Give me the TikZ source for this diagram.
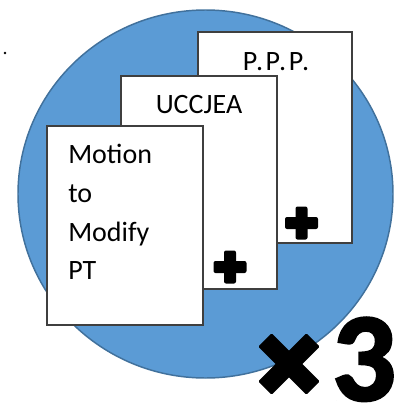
\documentclass[tikz,border=0pt]{standalone}
\usepackage{fontspec}
\setmainfont{Carlito}
\newfontfamily\threefont[BoldFeatures={FakeBold=2.5}]{Carlito}
\newfontfamily\spacedfont[LetterSpace=9]{Carlito}
\definecolor{circfill}{HTML}{5B9BD5}
\definecolor{circline}{HTML}{41719C}
\definecolor{boxline}{HTML}{3F3F3F}
\begin{document}
\begin{tikzpicture}[x=0.75pt,y=-0.75pt,
  circ/.style={fill=circfill,draw=circline,line width=1.1pt},
  doc/.style={draw=boxline,fill=white,line width=0.9pt,rectangle,inner sep=0pt},
  lbl/.style={font=\fontsize{21}{25}\selectfont,inner sep=0pt},
  mlbl/.style={font=\fontsize{21}{25}\selectfont,inner sep=0pt,anchor=base west},
  plusmark/.pic={
    \fill[black,rounded corners=1.5pt] (-16.5,-6) rectangle (16.5,6);
    \fill[black,rounded corners=1.5pt] (-6,-16.5) rectangle (6,16.5);
  }]
\useasboundingbox (0,0) rectangle (403,408);
% dot
\fill[black] (5,53) circle [radius=1.4];
% big circle
\draw[circ] (205.5,194) ellipse [x radius=187.5, y radius=184];
% documents
\node[doc,minimum width=115.5pt,minimum height=158.25pt] (ppp) at (275,137.5) {};
\node[lbl,anchor=base,font=\spacedfont\fontsize{21}{25}\selectfont] (ppptxt) at (276,70) {P.P.P.};
\pic at (301.5,223) {plusmark};
\node[doc,minimum width=117pt,minimum height=159.75pt] (ucc) at (199,182.5) {};
\node[lbl,anchor=base] (ucctxt) at (199,113) {UCCJEA};
\pic at (230,267) {plusmark};
\node[doc,minimum width=117pt,minimum height=149.25pt] (mot) at (125,225.5) {};
\node[mlbl] (m1) at (68,163) {Motion};
\node[mlbl] (m2) at (68,202) {to};
\node[mlbl] (m3) at (68,241) {Modify};
\node[mlbl] (m4) at (68,279) {PT};
% times 3
\begin{scope}[shift={(289,364)}]
  \fill[black,rounded corners=1pt,rotate=45] (-34,-9.5) rectangle (34,9.5);
  \fill[black,rounded corners=1pt,rotate=-45] (-34,-9.5) rectangle (34,9.5);
\end{scope}
\node[anchor=base,inner sep=0pt,text depth=0pt,font=\threefont\fontsize{94}{94}\selectfont\bfseries] (three) at (364,400) {3};
\end{tikzpicture}
\end{document}
